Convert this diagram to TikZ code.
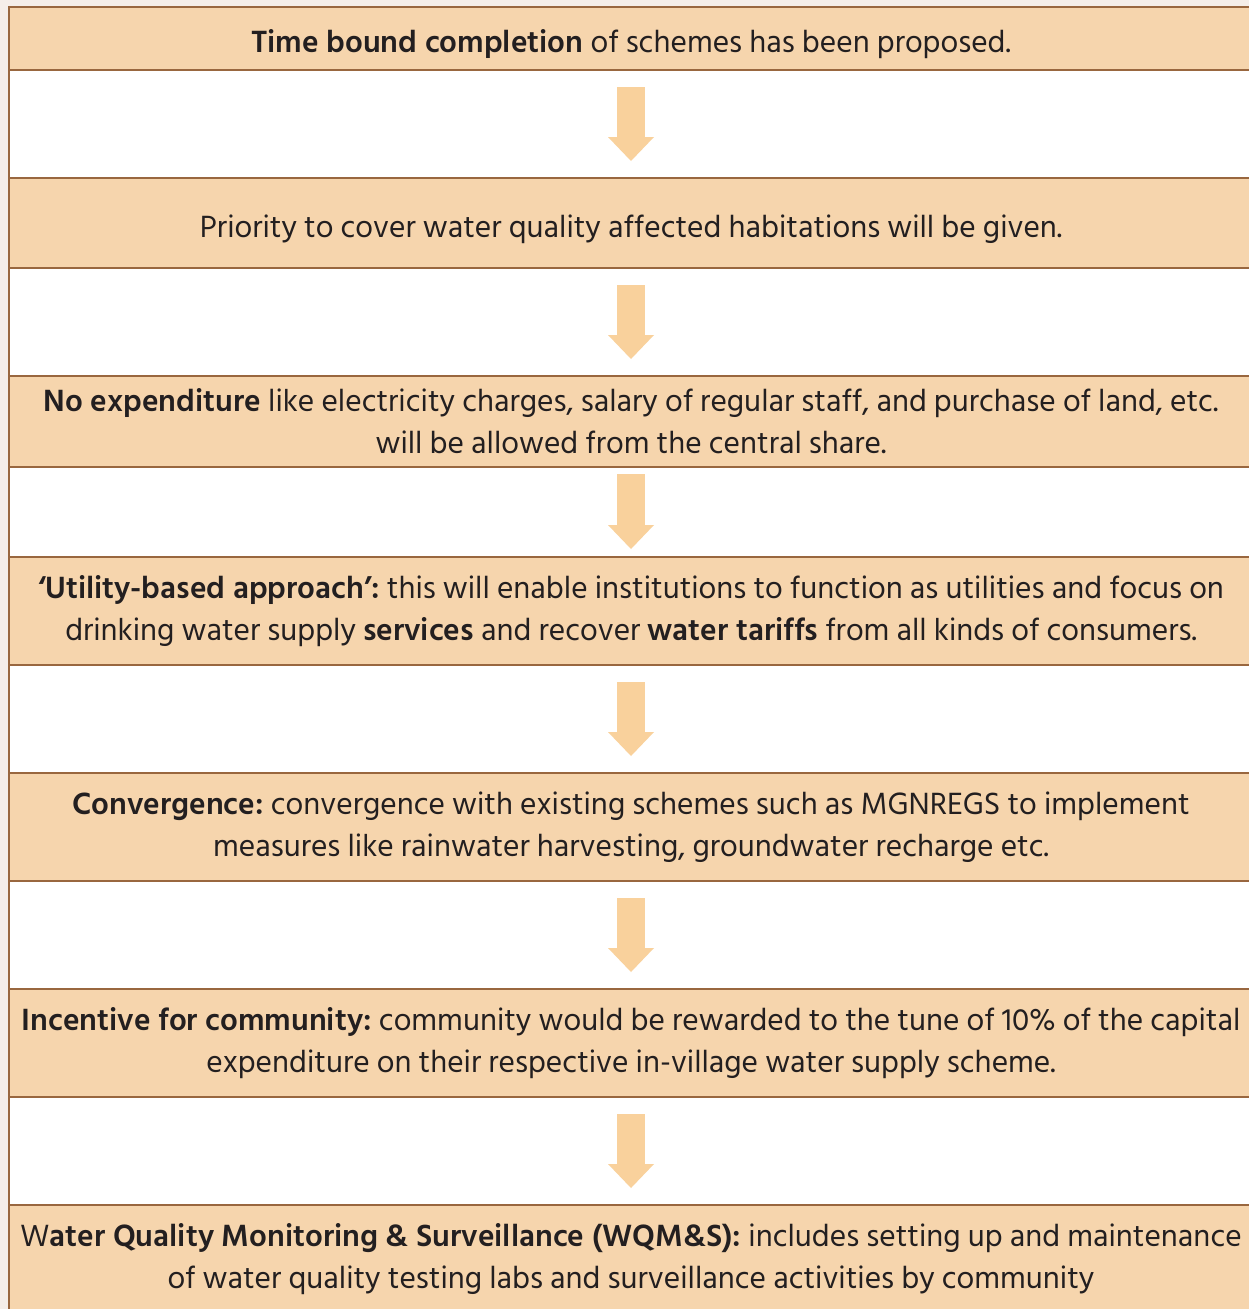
\documentclass[tikz,border=0pt]{standalone}
\usepackage{fontspec}
\setmainfont{Hind Siliguri}
\usetikzlibrary{positioning, arrows.meta}

\definecolor{pagebg}{HTML}{F5EEE9}
\definecolor{boxfill}{HTML}{F6D5AD}
\definecolor{boxline}{HTML}{99673F}
\definecolor{arrowfill}{HTML}{F9D19C}
\definecolor{textdark}{HTML}{231F20}

\tikzset{
    stagebox/.style={draw=boxline, fill=boxfill, line width=2pt,
        minimum width=1244pt, minimum height=108pt, inner sep=0pt, outer sep=0pt,
        align=center, text=textdark,
        font=\fontsize{31.5}{42}\selectfont,
        execute at begin node={\rule{0pt}{#1}}},
    stagebox/.default=35pt,
    flowarrow/.style={draw=arrowfill, line width=28pt,
        -{Triangle[width=46pt, length=24pt, line width=0pt]},
        shorten <=17pt, shorten >=17pt}
}

\begin{document}
\frenchspacing
\lineskiplimit=-100pt\relax
\begin{tikzpicture}[x=1pt, y=-1pt, node distance=108pt]
        \useasboundingbox (0,0) rectangle (1249,1309);
        \clip (0,0) rectangle (1249,1309);

        % page and white column
        \fill[pagebg] (0,0) rectangle (1249,1309);
        \fill[white] (9,7) rectangle (1260,1320);

        % stages
        \node[stagebox, minimum height=63pt] (time) at (631,38.5)
            {\textbf{Time bound completion} of schemes has been proposed.};
        \node[stagebox, minimum height=90pt, below=of time] (priority)
            {Priority to cover water quality affected habitations will be given.};
        \node[stagebox=41pt, minimum height=91pt, below=of priority] (expend)
            {\textbf{No expenditure} like electricity charges, salary of regular staff, and purchase of land, etc.\\
             will be allowed from the central share.};
        \node[stagebox=45pt, below=90pt of expend] (utility)
            {\textbf{‘Utility-based approach’:} this will enable institutions to function as utilities and focus on\\
             drinking water supply \textbf{services} and recover \textbf{water tariffs} from all kinds of consumers.};
        \node[stagebox=45pt, below=of utility] (converge)
            {\textbf{Convergence:} convergence with existing schemes such as MGNREGS to implement\\
             measures like rainwater harvesting, groundwater recharge etc.};
        \node[stagebox=45pt, below=of converge] (incentive)
            {\textbf{Incentive for community:} community would be rewarded to the tune of 10\% of the capital\\
             expenditure on their respective in-village water supply scheme.};
        \node[stagebox=47pt, below=of incentive] (wqms)
            {W\textbf{ater Quality Monitoring \& Surveillance (WQM\&S):} includes setting up and maintenance\\
             of water quality testing labs and surveillance activities by community};

        % arrows between stages
        \foreach \from/\to in {time/priority, priority/expend, utility/converge,
                               converge/incentive, incentive/wqms}
        {
            \draw[flowarrow] (\from) -- (\to);
        }
        \draw[flowarrow, shorten <=7pt, shorten >=8pt] (expend) -- (utility);

        % left border
        \draw[boxline, line width=2pt] (time.north west) -- (wqms.south west);
    \end{tikzpicture}
\end{document}
